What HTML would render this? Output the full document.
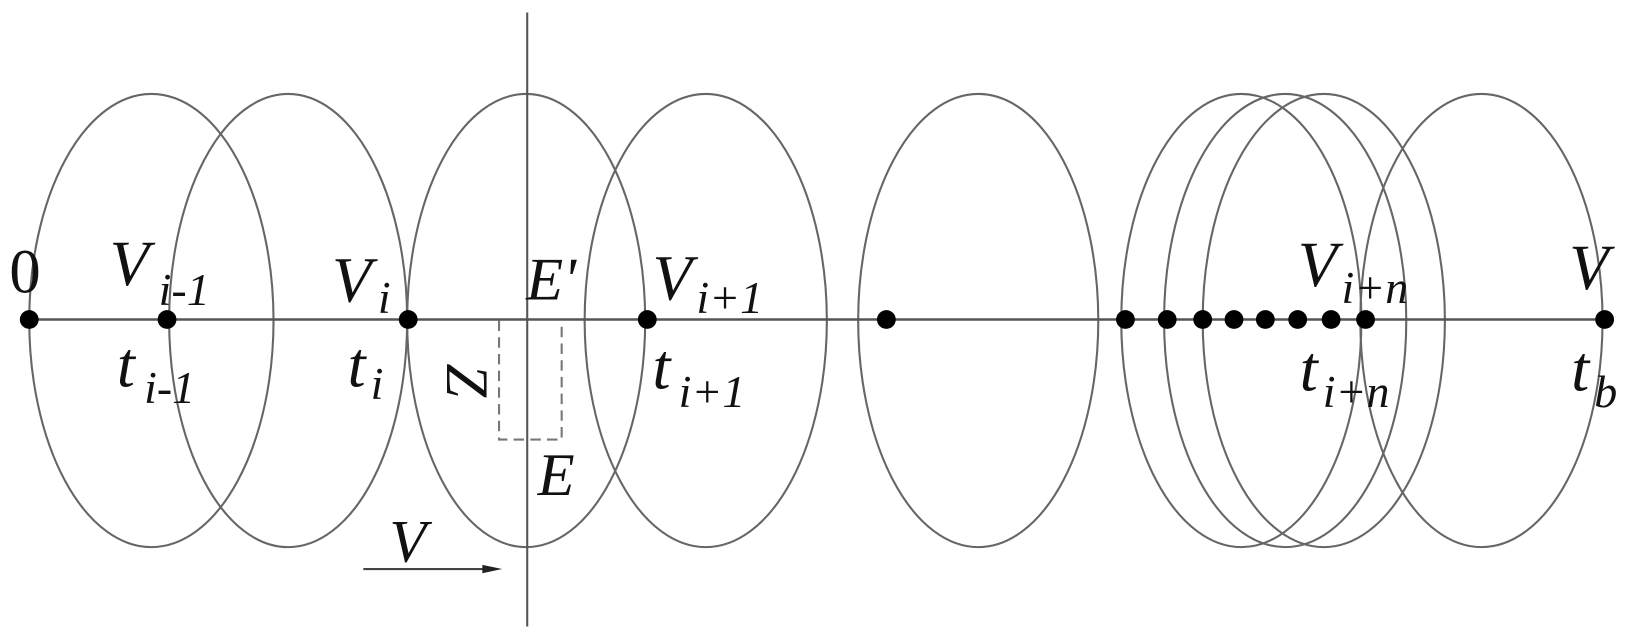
<!DOCTYPE html>
<html><head><meta charset="utf-8"><style>
html,body{margin:0;padding:0;background:#fff;}
svg{display:block;}
text{font-family:"Liberation Serif",serif;font-style:italic;fill:#111;}
</style></head><body>
<svg width="1637" height="639" viewBox="0 0 1568 612" preserveAspectRatio="none" xmlns="http://www.w3.org/2000/svg">
<g fill="none" stroke="#666" stroke-width="2">
<ellipse cx="145" cy="307" rx="117" ry="217"/>
<ellipse cx="276" cy="307" rx="114" ry="217"/>
<ellipse cx="504" cy="307" rx="114" ry="217"/>
<ellipse cx="676" cy="307" rx="116" ry="217"/>
<ellipse cx="937" cy="307" rx="115" ry="217"/>
<ellipse cx="1189" cy="307" rx="115" ry="217"/>
<ellipse cx="1231" cy="307" rx="116" ry="217"/>
<ellipse cx="1268" cy="307" rx="116" ry="217"/>
<ellipse cx="1419" cy="307" rx="116" ry="217"/>
</g>
<line x1="28" y1="306" x2="1537" y2="306" stroke="#555" stroke-width="2.5"/>
<line x1="505" y1="12" x2="505" y2="600" stroke="#555" stroke-width="2"/>
<path d="M478 307 V421 H538 V307" fill="none" stroke="#777" stroke-width="2" stroke-dasharray="10,6"/>
<line x1="348" y1="545" x2="468" y2="545" stroke="#444" stroke-width="2"/>
<polygon points="481,545 462,541 462,549" fill="#222"/>
<g fill="#000">
<circle cx="28" cy="306" r="9"/><circle cx="160" cy="306" r="9"/><circle cx="391" cy="306" r="9"/>
<circle cx="620" cy="306" r="9"/><circle cx="849" cy="306" r="9"/><circle cx="1078" cy="306" r="9"/>
<circle cx="1118" cy="306" r="9"/><circle cx="1152" cy="306" r="9"/><circle cx="1182" cy="306" r="9"/>
<circle cx="1212" cy="306" r="9"/><circle cx="1243" cy="306" r="9"/><circle cx="1275" cy="306" r="9"/>
<circle cx="1308" cy="306" r="9"/><circle cx="1537" cy="306" r="9"/>
</g>
<text x="9" y="280" font-size="60" style="font-style:normal">0</text>
<text x="105" y="273" font-size="62">V</text><text x="152" y="292" font-size="44">i-1</text>
<text x="318" y="289" font-size="62">V</text><text x="362" y="300" font-size="44">i</text>
<text x="504" y="287" font-size="58">E'</text>
<text x="625" y="287" font-size="62">V</text><text x="667" y="300" font-size="44">i+1</text>
<text x="112" y="370" font-size="62">t</text><text x="138" y="386" font-size="44">i-1</text>
<text x="333" y="370" font-size="62">t</text><text x="355" y="382" font-size="44">i</text>
<text x="625" y="372" font-size="62">t</text><text x="650" y="390" font-size="44">i+1</text>
<text x="515" y="474" font-size="58">E</text>
<text x="373" y="538" font-size="58">V</text>
<text font-size="58" transform="translate(428,348) rotate(90)">Z</text>
<text x="1243" y="274" font-size="62">V</text><text x="1285" y="290" font-size="44">i+n</text>
<text x="1245" y="374" font-size="62">t</text><text x="1267" y="390" font-size="44">i+n</text>
<text x="1503" y="277" font-size="62">V</text>
<text x="1505" y="374" font-size="62">t</text><text x="1527" y="390" font-size="44">b</text>
</svg>
</body></html>
